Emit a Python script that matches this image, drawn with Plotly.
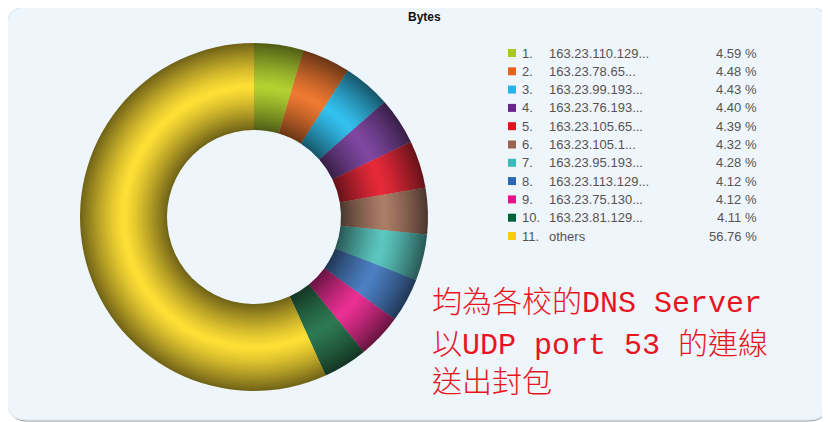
import plotly.graph_objects as go

# ---- data ----
ranks = ["1.", "2.", "3.", "4.", "5.", "6.", "7.", "8.", "9.", "10.", "11."]
hosts = ["163.23.110.129...", "163.23.78.65...", "163.23.99.193...", "163.23.76.193...",
         "163.23.105.65...", "163.23.105.1...", "163.23.95.193...", "163.23.113.129...",
         "163.23.75.130...", "163.23.81.129...", "others"]
percents = [4.59, 4.48, 4.43, 4.40, 4.39, 4.32, 4.28, 4.12, 4.12, 4.11, 56.76]
legend_colors = ["#A6C81E", "#E8641E", "#20B6EA", "#6A2590", "#E0141E", "#9C6450",
                 "#3CBAB8", "#2A66B4", "#E2168A", "#006438", "#FFCC10"]
ring_colors = ["#B4D232", "#F07A32", "#34C2F0", "#8048A2", "#E82A3A", "#AC7E68",
               "#5CC8C0", "#4C80C4", "#EA3094", "#2E7A52", "#FFE036"]
title_text = "Bytes"
note_lines = ["均為各校的DNS Server", "以UDP port 53 的連線", "送出封包"]

W, H = 830, 422
OFF = 8  # page body margin offset


def fx(x):
    return (x - OFF) / W


def fy(y):
    return 1 - (y - OFF) / H


def hex2rgb(h):
    h = h.lstrip("#")
    return [int(h[i:i + 2], 16) for i in (0, 2, 4)]


def shade(h, t):
    # t in [0,1] across ring (0 = outer edge, 1 = inner edge)
    r, g, b = hex2rgb(h)
    mid = 0.5
    d = abs(t - mid) / (mid if t < mid else 1 - mid)
    d = min(d, 1.0)
    dark = 0.56 * (d ** 1.25)
    out = []
    for c in (r, g, b):
        c = c * (1 - dark)
        out.append(int(max(0, min(255, c))))
    return "rgb(%d,%d,%d)" % tuple(out)


fig = go.Figure()

# donut geometry (pixels)
cx, cy = 254, 217
R = 174
hole = 0.5
r_in = R * hole
N = 40
for k in range(N):
    ro = R - (R - r_in) * k / N
    ri = R - (R - r_in) * (k + 1) / N
    t = (k + 0.5) / N
    ri_draw = ri - 1.5 if k < N - 1 else ri
    fig.add_trace(go.Pie(
        values=percents,
        labels=hosts,
        sort=False,
        direction="clockwise",
        rotation=0,
        hole=ri_draw / ro,
        marker=dict(colors=[shade(c, t) for c in ring_colors], line=dict(width=0)),
        textinfo="none",
        hoverinfo="label+percent",
        showlegend=False,
        domain=dict(x=[fx(cx - ro), fx(cx + ro)], y=[fy(cy + ro), fy(cy - ro)]),
    ))

# panel background (rounded rect)
x0, y0, x1, y1, rr = 7, 7, 828, 420, 20


def pp(x, y):
    return "%f,%f" % (fx(x), fy(y))


def rounded_path(x0, y0, x1, y1, rr):
    return ("M" + pp(x0 + rr, y0) + " L" + pp(x1 - rr, y0) +
            " Q" + pp(x1, y0) + " " + pp(x1, y0 + rr) +
            " L" + pp(x1, y1 - rr) +
            " Q" + pp(x1, y1) + " " + pp(x1 - rr, y1) +
            " L" + pp(x0 + rr, y1) +
            " Q" + pp(x0, y1) + " " + pp(x0, y1 - rr) +
            " L" + pp(x0, y0 + rr) +
            " Q" + pp(x0, y0) + " " + pp(x0 + rr, y0) + " Z")


shapes = [
    dict(type="path", xref="paper", yref="paper", layer="below",
         path=rounded_path(x0 + 1, y0 + 1.5, x1 + 0.5, y1 + 1.5, rr),
         fillcolor="#8c8c8c", line=dict(width=0)),
    dict(type="path", xref="paper", yref="paper", layer="below",
         path=rounded_path(x0, y0, x1, y1, rr),
         fillcolor="#EEF5FB", line=dict(color="#E2ECF3", width=1.5)),
]

annotations = [dict(text="<b>" + title_text + "</b>", x=fx(425), y=fy(17), xref="paper", yref="paper",
                    showarrow=False, xanchor="center", yanchor="middle",
                    font=dict(family="Liberation Sans, Arial", size=12, color="#111"))]

# legend rows
row0, dy = 53, 18.3
lfont = dict(family="Liberation Sans, Arial", size=13, color="#5a5250")
for i in range(len(hosts)):
    yy = row0 + i * dy
    shapes.append(dict(type="rect", xref="paper", yref="paper",
                       x0=fx(508), x1=fx(516), y0=fy(yy + 4), y1=fy(yy - 4),
                       fillcolor=legend_colors[i], line=dict(width=0)))
    annotations.append(dict(text=ranks[i], x=fx(520), y=fy(yy), xref="paper", yref="paper",
                            showarrow=False, xanchor="left", yanchor="middle", font=lfont))
    annotations.append(dict(text=hosts[i], x=fx(547), y=fy(yy), xref="paper", yref="paper",
                            showarrow=False, xanchor="left", yanchor="middle", font=lfont))
    annotations.append(dict(text="%.2f %%" % percents[i], x=fx(759), y=fy(yy), xref="paper",
                            yref="paper", showarrow=False, xanchor="right", yanchor="middle",
                            font=lfont))

# red note
note_y = [303, 345, 383]
for line, yy in zip(note_lines, note_y):
    annotations.append(dict(text=line, x=fx(430), y=fy(yy), xref="paper", yref="paper",
                            showarrow=False, xanchor="left", yanchor="middle",
                            font=dict(family="Liberation Mono, Noto Sans CJK TC", size=30,
                                      weight=300, color="#E8141E")))

fig.update_layout(
    width=W, height=H,
    margin=dict(l=0, r=0, t=0, b=0),
    paper_bgcolor="white",
    plot_bgcolor="white",
    shapes=shapes,
    annotations=annotations,
    showlegend=False,
)

fig.write_html("out.html")
